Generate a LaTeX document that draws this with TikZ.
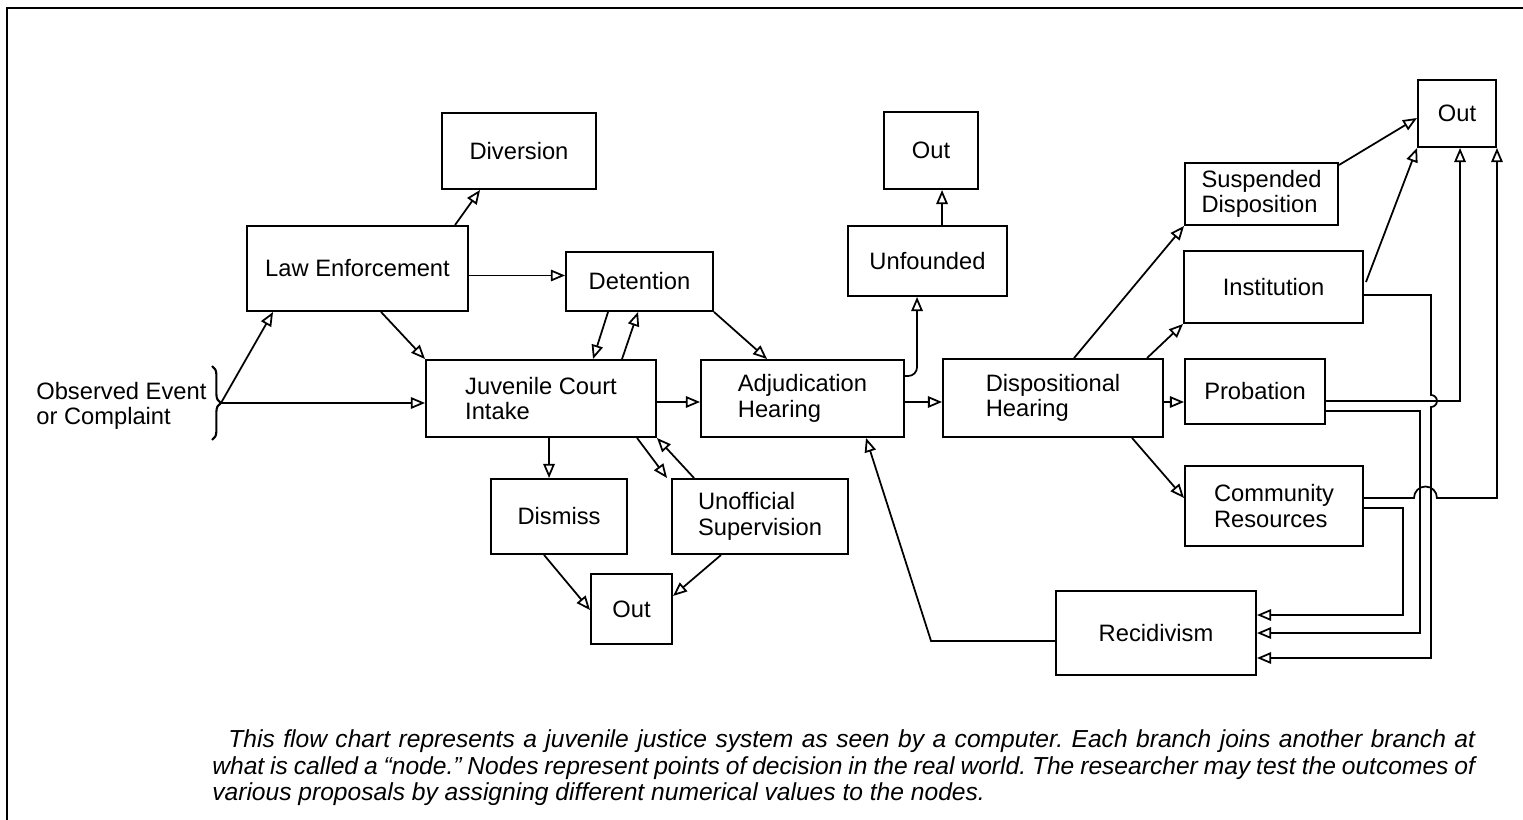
\documentclass[tikz,border=0pt]{standalone}
\usepackage{fontspec}
\setmainfont{Liberation Sans}
\usetikzlibrary{arrows.meta,calc,decorations.pathreplacing}
\def\pxu{0.02cm}
\tikzset{
  box/.style 2 args = {draw, line width=1.1pt, minimum width=#1*\pxu,
                minimum height=#2*\pxu, inner sep=0pt, align=left,
                font=\fontsize{13.5}{14.5}\selectfont},
  arr/.style = {line width=1pt, -{Triangle[open, length=8pt, width=6.5pt]}}
}

\begin{document}
\begin{tikzpicture}[x=\pxu, y=-\pxu]
	\useasboundingbox (0,0) rectangle (1523,820);

	% Frame
	\draw[line width=1.3pt] (7,820) -- (7,8) -- (1523,8);

	% Boxes
	\node[box={154}{76}] (dv) at (519,151) {Diversion};
	\node[box={221}{85}] (le) at (357.5,268.5) {Law Enforcement};
	\node[box={147}{59}] (dt) at (639.5,281.5) {Detention};
	\node[box={230}{77}] (jci) at (541,398.5) {Juvenile Court\\Intake};
	\node[box={203}{77}] (adj) at (802.5,398.5) {Adjudication\\Hearing};
	\node[box={159}{70}] (unf) at (927.5,261) {Unfounded};
	\node[box={94}{77}] (outa) at (931,150.5) {Out};
	\node[box={220}{78}] (dh) at (1053,398) {Dispositional\\Hearing};
	\node[box={153}{62}] (sd) at (1261.5,194) {Suspended\\Disposition};
	\node[box={179}{72}] (inst) at (1273.5,287) {Institution};
	\node[box={78}{67}] (outc) at (1457,113.5) {Out};
	\node[box={140}{65}] (prob) at (1255,391.5) {Probation};
	\node[box={178}{80}] (cr) at (1274,506) {Community\\Resources};
	\node[box={200}{84}] (rec) at (1156,633) {Recidivism};
	\node[box={136}{75}] (dis) at (559,516.5) {Dismiss};
	\node[box={176}{75}] (uo) at (760,516.5) {Unofficial\\Supervision};
	\node[box={81}{70}] (outb) at (631.5,609) {Out};

	% Observed event
	\node[anchor=west, align=left, inner sep=0pt,
		font=\fontsize{13.5}{14.5}\selectfont] (ev) at (36,406) {Observed Event\\or Complaint};
	\draw[line width=1.2pt, decorate, decoration={brace, amplitude=5pt}] (212,366) -- (212,440);
	\coordinate (oe) at (221,403);

	% Arrows, left part
	\draw[arr] (oe) -- ($(le.south west)+(27,0)$);
	\draw[arr] (oe) -- (oe -| jci.west);
	\draw[arr] ($(le.north west)+(209,0)$) -- ($(dv.south west)+(39,0)$);
	\draw[arr] ($(le.east)+(0,7)$) -- ($(dt.west)+(0,-6)$);
	\draw[arr] ($(le.south west)+(135,0)$) -- (jci.north west);
	\draw[arr] ($(dt.south west)+(43,0)$) -- ($(jci.north west)+(168,0)$);
	\draw[arr] ($(jci.north west)+(197,0)$) -- ($(dt.south west)+(73,0)$);
	\draw[arr] (dt.south east) -- ($(adj.north west)+(67,0)$);
	\draw[arr] ($(jci.east)+(0,3.5)$) -- ($(adj.west)+(0,3.5)$);
	\draw[arr] ($(jci.south west)+(124,0)$) -- ($(dis.north west)+(59,0)$);
	\draw[arr] ($(jci.south west)+(212,0)$) -- ($(uo.north west)+(-4,0)$);
	\draw[arr] ($(uo.north west)+(23,0)$) -- (jci.south east);
	\draw[arr] ($(dis.south west)+(54,0)$) -- ($(outb.west)+(0,1)$);
	\draw[arr] ($(uo.south west)+(50,0)$) -- ($(outb.east)+(0,-13)$);

	% Arrows, middle part
	\draw[arr, rounded corners=5pt] ($(adj.east)+(0,-22.5)$) -| ($(unf.south west)+(70,0)$);
	\draw[arr] ($(adj.east)+(0,3.5)$) -- ($(dh.west)+(0,4)$);
	\draw[arr] ($(unf.north west)+(95,0)$) -- ($(outa.south west)+(59,0)$);
	\draw[arr] ($(rec.west)+(0,8)$) -- ++(-124,0) -- ($(adj.south west)+(166,0)$);

	% Arrows, right part
	\draw[arr] ($(dh.north west)+(132,0)$) -- (sd.south west);
	\draw[arr] ($(dh.north west)+(205,0)$) -- (inst.south west);
	\draw[arr] ($(dh.east)+(0,4)$) -- ($(prob.west)+(0,10.5)$);
	\draw[arr] ($(dh.south west)+(190,0)$) -- ($(cr.west)+(0,-8)$);
	\draw[arr] ($(sd.north east)+(0,3)$) -- ($(outc.west)+(0,4.5)$);
	\draw[arr] ($(inst.east)+(2,-5)$) -- (outc.south west);
	\draw[arr] ($(inst.east)+(0,8)$) -- ++(67,0) -- ++(0,100)
		arc[start angle=270, end angle=450, radius=6] -- ($(rec.east)+(174,25)$) -- ($(rec.east)+(0,25)$);
	\draw[arr] ($(prob.east)+(0,9.5)$) -| ($(outc.south west)+(43,0)$);
	\draw[arr] ($(prob.east)+(0,19.5)$) -| ($(rec.east)+(163,0)$) -- (rec.east);
	\draw[arr] ($(cr.east)+(0,-8)$) -- ++(50,0)
		arc[start angle=180, end angle=360, radius=11.5] -| (outc.south east);
	\draw[arr] ($(cr.east)+(0,2)$) -| ($(rec.east)+(146,-18)$) -- ($(rec.east)+(0,-18)$);

	% Caption
	\node[anchor=north west, align=justify, inner sep=0pt, text width=25.26cm,
		font=\fontsize{14}{15.3}\selectfont\itshape\frenchspacing] (cap) at (212,729)
		{\hspace*{0.32cm}This flow chart represents a juvenile justice system as seen by a computer. Each branch joins another branch at\linebreak
		what is called a “node.” Nodes represent points of decision in the real world. The researcher may test the outcomes of\linebreak
		various proposals by assigning different numerical values to the nodes.};
\end{tikzpicture}
\end{document}
